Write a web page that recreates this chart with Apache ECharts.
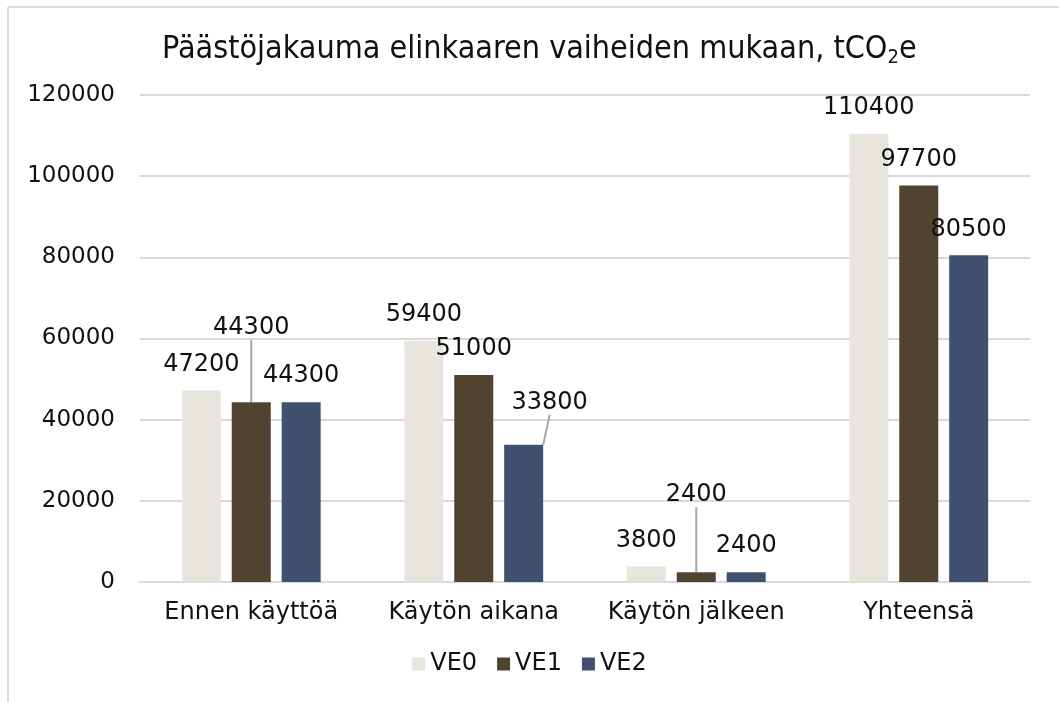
<!DOCTYPE html>
<html>
<head>
<meta charset="utf-8">
<script src="https://cdn.jsdelivr.net/npm/echarts@6/dist/echarts.min.js"></script>
<style>
  html, body { margin: 0; padding: 0; background: #ffffff; }
  #chart { width: 1059px; height: 702px; }
</style>
</head>
<body>
<div id="chart"></div>
<script>
// Life-cycle stages and emissions per scenario (tCO2e)
var categories = ['Ennen käyttöä', 'Käytön aikana', 'Käytön jälkeen', 'Yhteensä'];
var seriesNames = ['VE0', 'VE1', 'VE2'];
var ve0 = [47200, 59400, 3800, 110400];
var ve1 = [44300, 51000, 2400, 97700];
var ve2 = [44300, 33800, 2400, 80500];
var yTicks = [0, 20000, 40000, 60000, 80000, 100000, 120000];

var colors = ['#e8e5df', '#524331', '#40506f'];
var FONT = 'DejaVu Sans';

// Labels that are lifted off their bar and joined to it with a leader line
// key: seriesIndex + '-' + dataIndex  ->  shift in px
var labelShift = {
  '1-0': { dx: 0, dy: -48 },
  '2-1': { dx: 26, dy: -16 },
  '1-2': { dx: 0, dy: -51 }
};

function buildData(values, sIdx) {
  return values.map(function (v, i) {
    var item = { value: v };
    if (labelShift[sIdx + '-' + i]) {
      item.labelLine = { show: true };
    }
    return item;
  });
}

var seriesValues = [ve0, ve1, ve2];
var series = seriesValues.map(function (vals, s) {
  return {
    name: seriesNames[s],
    type: 'bar',
    barWidth: 39,
    barGap: '28%',
    itemStyle: { color: colors[s] },
    data: buildData(vals, s),
    label: {
      show: true,
      position: 'top',
      distance: 14,
      fontFamily: FONT,
      fontSize: 24,
      color: '#111111'
    },
    labelLine: {
      show: false,
      lineStyle: { color: '#a6a6a6', width: 2 }
    },
    labelLayout: function (params) {
      var sh = labelShift[params.seriesIndex + '-' + params.dataIndex];
      return sh ? { dx: sh.dx, dy: sh.dy } : {};
    }
  };
});

var chart = echarts.init(document.getElementById('chart'), null, { renderer: 'canvas' });
chart.setOption({
  animation: false,
  backgroundColor: '#ffffff',
  title: {
    text: 'Päästöjakauma elinkaaren vaiheiden mukaan, tCO{sub|2}e',
    left: 157,
    top: 26,
    textStyle: {
      fontFamily: 'DejaVu Sans Condensed',
      fontSize: 32,
      fontWeight: 'normal',
      color: '#111111',
      rich: {
        sub: {
          fontFamily: 'DejaVu Sans Condensed',
          fontSize: 20,
          color: '#111111',
          padding: [17, 0, 0, 0]
        }
      }
    }
  },
  legend: {
    data: seriesNames,
    bottom: 21,
    left: 'center',
    itemWidth: 13,
    itemHeight: 13,
    itemGap: 20,
    icon: 'rect',
    textStyle: { fontFamily: FONT, fontSize: 24, color: '#111111' }
  },
  grid: { left: 140, right: 29, top: 95, bottom: 120 },
  xAxis: {
    type: 'category',
    data: categories,
    axisLine: { lineStyle: { color: '#d9d9d9', width: 2 } },
    axisTick: { show: false },
    axisLabel: { interval: 0, fontFamily: FONT, fontSize: 24, color: '#111111', margin: 19 }
  },
  yAxis: {
    type: 'value',
    min: yTicks[0],
    max: yTicks[yTicks.length - 1],
    interval: yTicks[1] - yTicks[0],
    axisLine: { show: false },
    axisTick: { show: false },
    splitLine: { lineStyle: { color: '#d9d9d9', width: 2 } },
    axisLabel: {
      fontFamily: FONT,
      fontSize: 23,
      color: '#111111',
      margin: 25,
      formatter: function (v) { return String(v); }
    }
  },
  graphic: [
    { type: 'line', shape: { x1: 8, y1: 7, x2: 1059, y2: 7 }, style: { stroke: '#dcdcdc', lineWidth: 2 } },
    { type: 'line', shape: { x1: 8, y1: 7, x2: 8, y2: 702 }, style: { stroke: '#dcdcdc', lineWidth: 2 } }
  ],
  series: series
});
</script>
</body>
</html>
